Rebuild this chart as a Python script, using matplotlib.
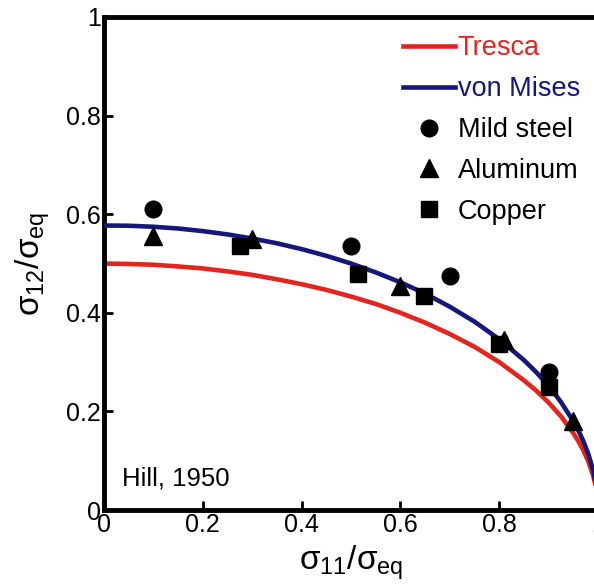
import matplotlib
matplotlib.use("Agg")
import matplotlib.pyplot as plt

plt.rcParams['font.family'] = ['Liberation Sans', 'DejaVu Sans']
plt.rcParams['mathtext.fontset'] = 'custom'
plt.rcParams['mathtext.rm'] = 'Liberation Sans'
plt.rcParams['mathtext.it'] = 'Liberation Sans:italic'
plt.rcParams['mathtext.default'] = 'regular'

# yield curves
curve_x = [0, 0.05, 0.1, 0.15, 0.2, 0.25, 0.3, 0.35, 0.4, 0.45, 0.5, 0.55, 0.6, 0.65,
           0.7, 0.75, 0.8, 0.85, 0.875, 0.9, 0.925, 0.95, 0.96, 0.97, 0.98, 0.99,
           0.995, 0.999, 1.0]
tresca_y = [0.5, 0.499, 0.4975, 0.494, 0.49, 0.484, 0.477, 0.468, 0.458, 0.4465, 0.433,
            0.418, 0.4, 0.38, 0.357, 0.331, 0.3, 0.263, 0.242, 0.218, 0.19, 0.156,
            0.14, 0.1216, 0.0995, 0.0705, 0.05, 0.0224, 0.0]
mises_y = [0.577, 0.5766, 0.5745, 0.571, 0.5657, 0.559, 0.5507, 0.541, 0.5292, 0.5156,
           0.5, 0.482, 0.4619, 0.439, 0.4123, 0.382, 0.3464, 0.304, 0.2795, 0.2517,
           0.219, 0.18, 0.1617, 0.1404, 0.1149, 0.0815, 0.0577, 0.0258, 0.0]

# experimental points (Hill, 1950)
steel_x = [0.1, 0.5, 0.7, 0.9]
steel_y = [0.61, 0.535, 0.475, 0.28]
alu_x = [0.1, 0.3, 0.6, 0.81, 0.95]
alu_y = [0.555, 0.55, 0.455, 0.345, 0.18]
copper_x = [0.275, 0.515, 0.648, 0.8, 0.9]
copper_y = [0.535, 0.478, 0.434, 0.337, 0.25]

ticks = [0, 0.2, 0.4, 0.6, 0.8, 1]
tick_labels = ['0', '0.2', '0.4', '0.6', '0.8', '1']

red = '#e3241f'
blue = '#16177a'

fig = plt.figure(figsize=(5.94, 5.85), dpi=100)
ax = fig.add_axes([104 / 594, 75 / 585, 494 / 594, 493 / 585])

ax.plot(curve_x, tresca_y, color=red, lw=3.3, label='Tresca', zorder=2)
ax.plot(curve_x, mises_y, color=blue, lw=3.3, label='von Mises', zorder=3)
ax.plot(steel_x, steel_y, 'o', color='black', ms=12, label='Mild steel', zorder=4)
ax.plot(alu_x, alu_y, '^', color='black', ms=13, label='Aluminum', zorder=4)
ax.plot(copper_x, copper_y, 's', color='black', ms=11.5, label='Copper', zorder=4)

ax.set_xlim(0, 1)
ax.set_ylim(0, 1)
ax.set_xticks(ticks)
ax.set_xticklabels(tick_labels)
ax.set_yticks(ticks)
ax.set_yticklabels(tick_labels)
for s in ax.spines.values():
    s.set_linewidth(3.5)
ax.tick_params(direction='in', length=6.5, width=2, labelsize=18)
ax.tick_params(axis='y', pad=2)
ax.tick_params(axis='x', pad=2)

ax.set_xlabel(r'$\sigma_{11}/\sigma_{eq}$', fontsize=24, labelpad=5)
ax.set_ylabel(r'$\sigma_{12}/\sigma_{eq}$', fontsize=24, labelpad=10)

ax.text(0.036, 0.05, 'Hill, 1950', fontsize=18.5)

leg = ax.legend(loc='upper right', bbox_to_anchor=(0.985, 0.985), frameon=False,
                fontsize=19.5, handlelength=1.95, handletextpad=0.08,
                labelspacing=0.55, borderaxespad=0)
texts = leg.get_texts()
texts[0].set_color(red)
texts[1].set_color(blue)

fig.savefig('out.png', dpi=100, facecolor='white')
